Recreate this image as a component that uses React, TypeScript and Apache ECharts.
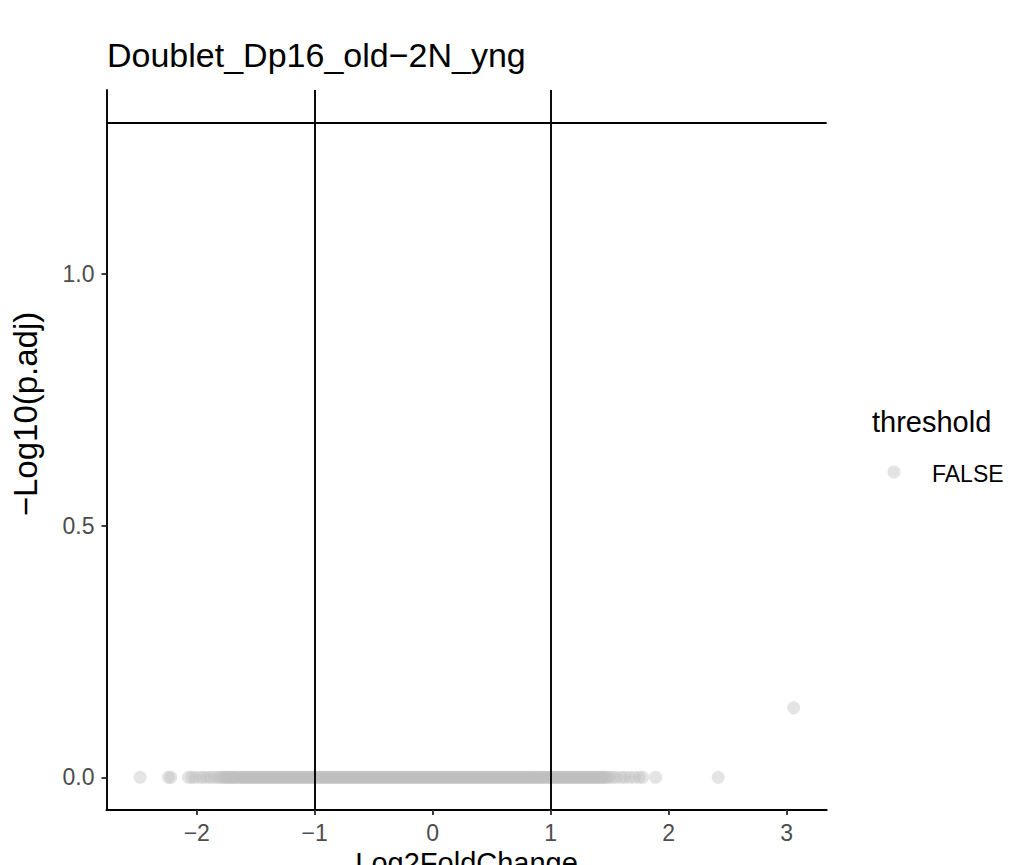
import React, { useEffect, useRef } from "react";
import * as echarts from "echarts";

// Genes whose -log10(p.adj) reads as 0 (p.adj = 1): their log2 fold changes
const zeroLog2FC: number[] = [
  -2.48, -2.24, -2.22, -2.07, -2.04, -2.01, -1.97, -1.94, -1.91, -1.88,
  -1.85, -1.82, -1.8, -1.78, -1.75, -1.73, -1.7, -1.68, -1.65, -1.62, -1.6, -1.57, -1.55,
  -1.52, -1.5, -1.47, -1.45, -1.42, -1.4, -1.37, -1.35, -1.32, -1.3, -1.27, -1.25,
  -1.22, -1.2, -1.17, -1.15, -1.12, -1.1, -1.07, -1.05, -1.02, -1.0, -0.97, -0.95,
  -0.92, -0.9, -0.87, -0.85, -0.82, -0.8, -0.77, -0.75, -0.72, -0.7, -0.67, -0.65,
  -0.62, -0.6, -0.57, -0.55, -0.52, -0.5, -0.47, -0.45, -0.42, -0.4, -0.37, -0.35,
  -0.32, -0.3, -0.27, -0.25, -0.22, -0.2, -0.17, -0.15, -0.12, -0.1, -0.07, -0.05,
  -0.02, 0.0, 0.03, 0.05, 0.08, 0.1, 0.13, 0.15, 0.18, 0.2, 0.23, 0.25, 0.28, 0.3,
  0.33, 0.35, 0.38, 0.4, 0.43, 0.45, 0.48, 0.5, 0.53, 0.55, 0.58, 0.6, 0.63, 0.65,
  0.68, 0.7, 0.73, 0.75, 0.78, 0.8, 0.83, 0.85, 0.88, 0.9, 0.93, 0.95, 0.98, 1.0,
  1.03, 1.05, 1.08, 1.1, 1.13, 1.15, 1.18, 1.2, 1.23, 1.25, 1.28, 1.3, 1.33, 1.35,
  1.38, 1.4, 1.43, 1.45, 1.48, 1.5, 1.53, 1.56, 1.6, 1.63, 1.67, 1.71, 1.75, 1.78,
  1.89, 2.42,
  -1.765, -1.74, -1.715, -1.69, -1.665, -1.635, -1.61, -1.585, -1.56, -1.535, -1.51,
  -1.485, -1.46, -1.435, -1.41, -1.385, -1.36, -1.335, -1.31, -1.285, -1.26, -1.235,
  -1.21, -1.185, -1.16, -1.135, -1.11, -1.085, -1.06, -1.035, -1.01, -0.985, -0.96,
  -0.935, -0.91, -0.885, -0.86, -0.835, -0.81, -0.785, -0.76, -0.735, -0.71, -0.685,
  -0.66, -0.635, -0.61, -0.585, -0.56, -0.535, -0.51, -0.485, -0.46, -0.435, -0.41,
  -0.385, -0.36, -0.335, -0.31, -0.285, -0.26, -0.235, -0.21, -0.185, -0.16, -0.135,
  -0.11, -0.085, -0.06, -0.035, -0.01, 0.015, 0.04, 0.065, 0.09, 0.115, 0.14, 0.165,
  0.19, 0.215, 0.24, 0.265, 0.29, 0.315, 0.34, 0.365, 0.39, 0.415, 0.44, 0.465, 0.49,
  0.515, 0.54, 0.565, 0.59, 0.615, 0.64, 0.665, 0.69, 0.715, 0.74, 0.765, 0.79, 0.815,
  0.84, 0.865, 0.89, 0.915, 0.94, 0.965, 0.99, 1.015, 1.04, 1.065, 1.09, 1.115, 1.14,
  1.165, 1.19, 1.215, 1.24, 1.265, 1.29, 1.315, 1.34, 1.365, 1.39, 1.415, 1.44, 1.465,
];
// Genes with a non-zero -log10(p.adj)
const liftedLog2FC: number[] = [3.06];
const liftedNegLog10P: number[] = [0.138];

const xTicks = [-2, -1, 0, 1, 2, 3];
const yTicks = [0, 0.5, 1.0];
const foldCutoffs = [-1, 1];
const pCutoff = 1.30103; // -log10(0.05)

const titleText = "Doublet_Dp16_old\u22122N_yng";
const xTitle = "Log2FoldChange";
const yTitle = "\u2212Log10(p.adj)";
const legendTitle = "threshold";
const legendLabels = ["FALSE"];

const FONT = "Liberation Sans, Arial, Helvetica, sans-serif";

export default function App() {
  const ref = useRef<HTMLDivElement>(null);
  useEffect(() => {
    if (!ref.current) return;
    const chart = echarts.init(ref.current, undefined, { renderer: "svg" });
    const pts: number[][] = [];
    zeroLog2FC.forEach((x) => pts.push([x, 0]));
    liftedLog2FC.forEach((x, i) => pts.push([x, liftedNegLog10P[i]]));

    const minusFmt = (v: number) =>
      v < 0 ? "\u2212" + String(Math.abs(v)) : String(v);

    chart.setOption({
      animation: false,
      backgroundColor: "#ffffff",
      grid: { left: 106.5, right: 187.3, top: 90, bottom: 55, containLabel: false },
      xAxis: {
        type: "value",
        min: -2.765,
        max: 3.34,
        splitLine: { show: false },
        axisLine: { onZero: false, lineStyle: { color: "#000000", width: 1.9 } },
        axisTick: {
          length: 5,
          customValues: xTicks,
          lineStyle: { color: "#333333", width: 1.9 },
        },
        axisLabel: {
          customValues: xTicks,
          formatter: minusFmt,
          color: "#4d4d4d",
          fontSize: 23,
          fontFamily: FONT,
          margin: 11,
        },
      },
      yAxis: {
        type: "value",
        min: -0.065,
        max: 1.366,
        splitLine: { show: false },
        axisLine: { onZero: false, lineStyle: { color: "#000000", width: 1.9 } },
        axisTick: {
          length: 5,
          customValues: yTicks,
          lineStyle: { color: "#333333", width: 1.9 },
        },
        axisLabel: {
          customValues: yTicks,
          formatter: (v: number) => v.toFixed(1),
          color: "#4d4d4d",
          fontSize: 23,
          fontFamily: FONT,
          margin: 12,
        },
      },
      series: [
        {
          type: "scatter",
          data: pts,
          symbol: "circle",
          symbolSize: 13,
          itemStyle: { color: "#bebebe", opacity: 0.42 },
          silent: true,
          z: 2,
        },
        {
          type: "line",
          data: [],
          silent: true,
          z: 5,
          markLine: {
            silent: true,
            symbol: ["none", "none"],
            label: { show: false },
            lineStyle: { color: "#000000", width: 1.9, type: "solid" },
            data: [
              ...foldCutoffs.map((x) => ({ xAxis: x })),
              { yAxis: pCutoff },
            ],
          },
        },
      ],
      graphic: [
        {
          type: "text",
          left: 107,
          top: 38,
          style: {
            text: titleText,
            fontSize: 34,
            fontFamily: FONT,
            fill: "#000000",
          },
        },
        {
          type: "text",
          x: 466.6,
          y: 863,
          style: {
            text: xTitle,
            fontSize: 29,
            fontFamily: FONT,
            fill: "#000000",
            align: "center",
            verticalAlign: "middle",
          },
        },
        {
          type: "text",
          x: 25,
          y: 414,
          rotation: Math.PI / 2,
          style: {
            text: yTitle,
            fontSize: 33,
            fontFamily: FONT,
            fill: "#000000",
            align: "center",
            verticalAlign: "middle",
          },
        },
        {
          type: "text",
          x: 872,
          y: 422,
          style: {
            text: legendTitle,
            fontSize: 29,
            fontFamily: FONT,
            fill: "#000000",
            align: "left",
            verticalAlign: "middle",
          },
        },
        {
          type: "circle",
          shape: { cx: 894, cy: 472, r: 6.5 },
          style: { fill: "#bebebe", opacity: 0.42 },
        },
        {
          type: "text",
          x: 932,
          y: 474,
          style: {
            text: legendLabels[0],
            fontSize: 23,
            fontFamily: FONT,
            fill: "#000000",
            align: "left",
            verticalAlign: "middle",
          },
        },
      ],
    });
    return () => chart.dispose();
  }, []);
  return (
    <div
      ref={ref}
      style={{ position: "absolute", left: 0, top: 0, width: 1014, height: 865 }}
    />
  );
}
